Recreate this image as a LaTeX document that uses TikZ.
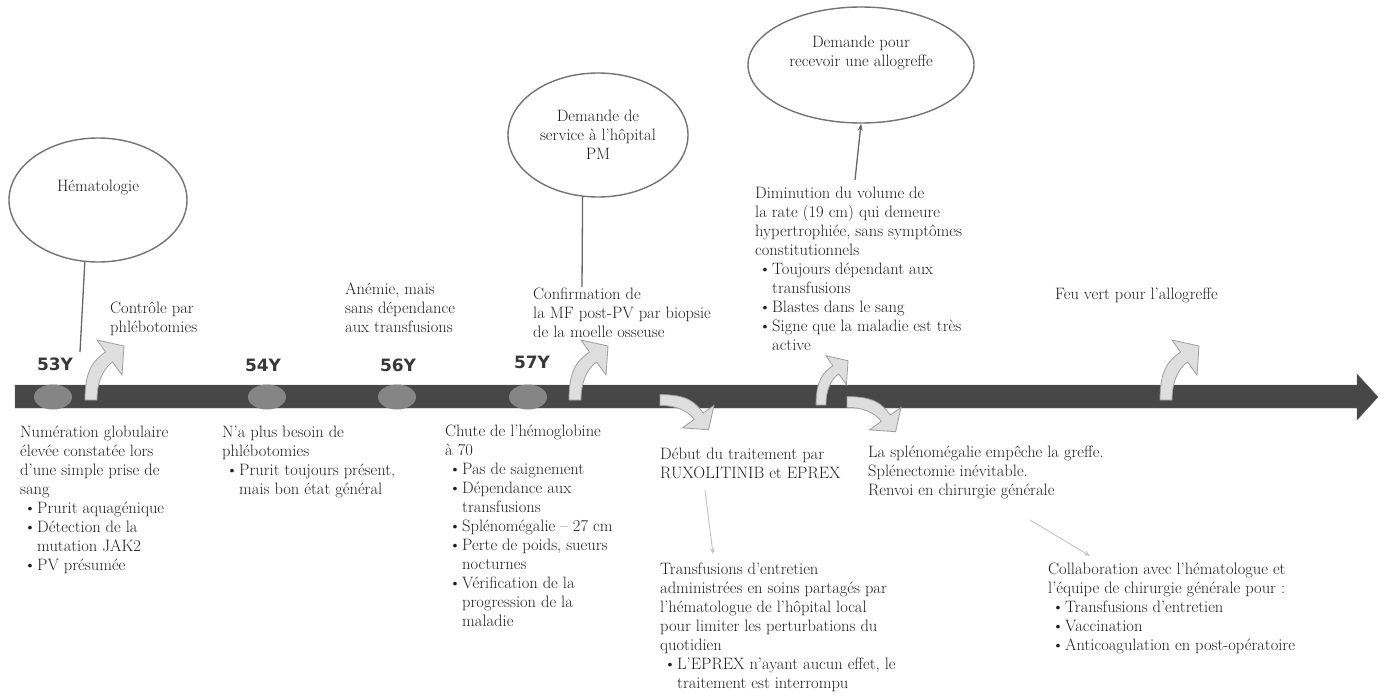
\documentclass[tikz,border=0pt]{standalone}
\usepackage{fontspec}
\newfontfamily\yearfont{DejaVu Sans}
\usetikzlibrary{arrows.meta,positioning,shapes.geometric}

% bullet and hanging indent for the list lines
\newcommand\bul{\makebox[17pt][l]{\hspace{4pt}\textbullet}}
\newcommand\ind{\hspace*{17pt}}

% curved block arrow on the time line: x, y, rotation, scale
\newcommand\bendarrow[4]{%
  \begin{scope}[shift={(#1,#2)}, rotate=#3, scale=#4]
    \filldraw[bendshape] (-6,0) .. controls (-6,-30) and (2,-39) .. (14.5,-48)
      -- (6,-60) -- (33,-54) -- (31,-25) -- (21.5,-38)
      .. controls (12,-31) and (6,-18) .. (6,0) -- cycle;
  \end{scope}}

\begin{document}
\begin{tikzpicture}[
  x=1pt, y=-1pt,
  font=\fontsize{16.5}{19}\selectfont,
  txt/.style={anchor=north west, inner sep=0pt, align=left, text=black!88},
  bubble/.style={ellipse, draw=black!55, line width=1.4pt, fill=white,
                 inner sep=0pt, align=center, text=black!88},
  year/.style={font=\yearfont\bfseries\fontsize{17}{20}\selectfont, text=black!78},
  dot/.style={ellipse, fill=black!48, minimum width=38pt, minimum height=25pt, inner sep=0pt},
  link/.style={draw=black!60, line width=1.3pt},
  hint/.style={draw=black!22, line width=1pt, -{Stealth[length=6pt,width=5pt]}},
  bendshape/.style={fill=black!13, draw=black!38, line width=0.8pt}
]
\useasboundingbox (0,0) rectangle (1384,696);

% ---------------- time line ----------------
\filldraw[fill=black!72, draw=black!60] (15,385) -- (1357,385) -- (1357,374) -- (1378,397)
  -- (1357,420) -- (1357,408) -- (15,408) -- cycle;

\node[dot] (m53) at (53,397) {};
\node[dot] (m54) at (267,397) {};
\node[dot] (m56) at (397,397) {};
\node[dot] (m57) at (528,397) {};

\node[year] (y53) at (55,364) {53Y};
\node[year] (y54) at (263,365) {54Y};
\node[year] (y56) at (398,365) {56Y};
\node[year] (y57) at (532,362) {57Y};

\bendarrow{91}{400}{0}{1}
\bendarrow{575}{400}{0}{1}
\bendarrow{821}{405}{0}{0.82}
\bendarrow{1166}{400}{0}{1}
\bendarrow{660}{400}{-90}{0.9}
\bendarrow{847}{402}{-90}{0.9}

% ---------------- bubbles ----------------
\node[bubble, minimum width=178pt, minimum height=124pt, text depth=28pt] (hema) at (98,200)
  {Hématologie};
\node[bubble, minimum width=180pt, minimum height=124pt] (pm) at (598,135)
  {Demande de\\service à l’hôpital\\PM};
\node[bubble, minimum width=226pt, minimum height=116pt, text depth=28pt] (allo) at (861,65)
  {Demande pour\\recevoir une allogreffe};

% ---------------- above the line ----------------
\node[txt] (controle) at (110,302) {Contrôle par\\phlébotomies};
\node[txt] (anemie) at (345,283) {Anémie, mais\\sans dépendance\\aux transfusions};
\node[txt] (confirm) at (533,288)
  {Confirmation de\\la MF post-PV par biopsie\\de la moelle osseuse};
\node[txt] (dimin) at (755,187)
  {Diminution du volume de\\la rate (19 cm) qui demeure\\hypertrophiée, sans symptômes\\constitutionnels\\
   \bul Toujours dépendant aux\\\ind transfusions\\\bul Blastes dans le sang\\
   \bul Signe que la maladie est très\\\ind active};
\node[txt] (feuvert) at (1055,288) {Feu vert pour l’allogreffe};

% ---------------- below the line ----------------
\node[txt] (numer) at (20,426)
  {Numération globulaire\\élevée constatée lors\\d’une simple prise de\\sang\\
   \bul Prurit aquagénique\\\bul Détection de la\\\ind mutation JAK2\\\bul PV présumée};
\node[txt] (plusbesoin) at (222,426)
  {N’a plus besoin de\\phlébotomies\\\bul Prurit toujours présent,\\\ind mais bon état général};
\node[txt] (chute) at (445,425)
  {Chute de l’hémoglobine\\à 70\\\bul Pas de saignement\\\bul Dépendance aux\\\ind transfusions\\
   \bul Splénomégalie -- 27 cm\\\bul Perte de poids, sueurs\\\ind nocturnes\\
   \bul Vérification de la\\\ind progression de la\\\ind maladie};
\node[txt] (debut) at (660,448) {Début du traitement par\\RUXOLITINIB et EPREX};
\node[txt] (transf) at (660,563)
  {Transfusions d’entretien\\administrées en soins partagés par\\l’hématologue de l’hôpital local\\
   pour limiter les perturbations du\\quotidien\\
   \bul L’EPREX n’ayant aucun effet, le\\\ind traitement est interrompu};
\node[txt] (spleno) at (868,446)
  {La splénomégalie empêche la greffe.\\Splénectomie inévitable.\\Renvoi en chirurgie générale};
\node[txt] (collab) at (1048,563)
  {Collaboration avec l’hématologue et\\l’équipe de chirurgie générale pour :\\
   \bul Transfusions d’entretien\\\bul Vaccination\\\bul Anticoagulation en post-opératoire};

% ---------------- connectors ----------------
\coordinate (hemaend) at (80,352);
\coordinate (pmend) at (582,287);
\coordinate (dimtop) at (855,180);
\coordinate (debutfoot) at (705,490);
\coordinate (transfhead) at (713,554);
\coordinate (splenofoot) at (1030,520);
\coordinate (collabhead) at (1090,556);

\draw[link] (hema.258) -- (hemaend);
\draw[link] (pm.256) -- (pmend);
\draw[link, -{Stealth[length=7pt,width=5pt]}] (dimtop) -- (allo.south);
\draw[hint] (debutfoot) -- (transfhead);
\draw[hint] (splenofoot) -- (collabhead);

\end{tikzpicture}
\end{document}
